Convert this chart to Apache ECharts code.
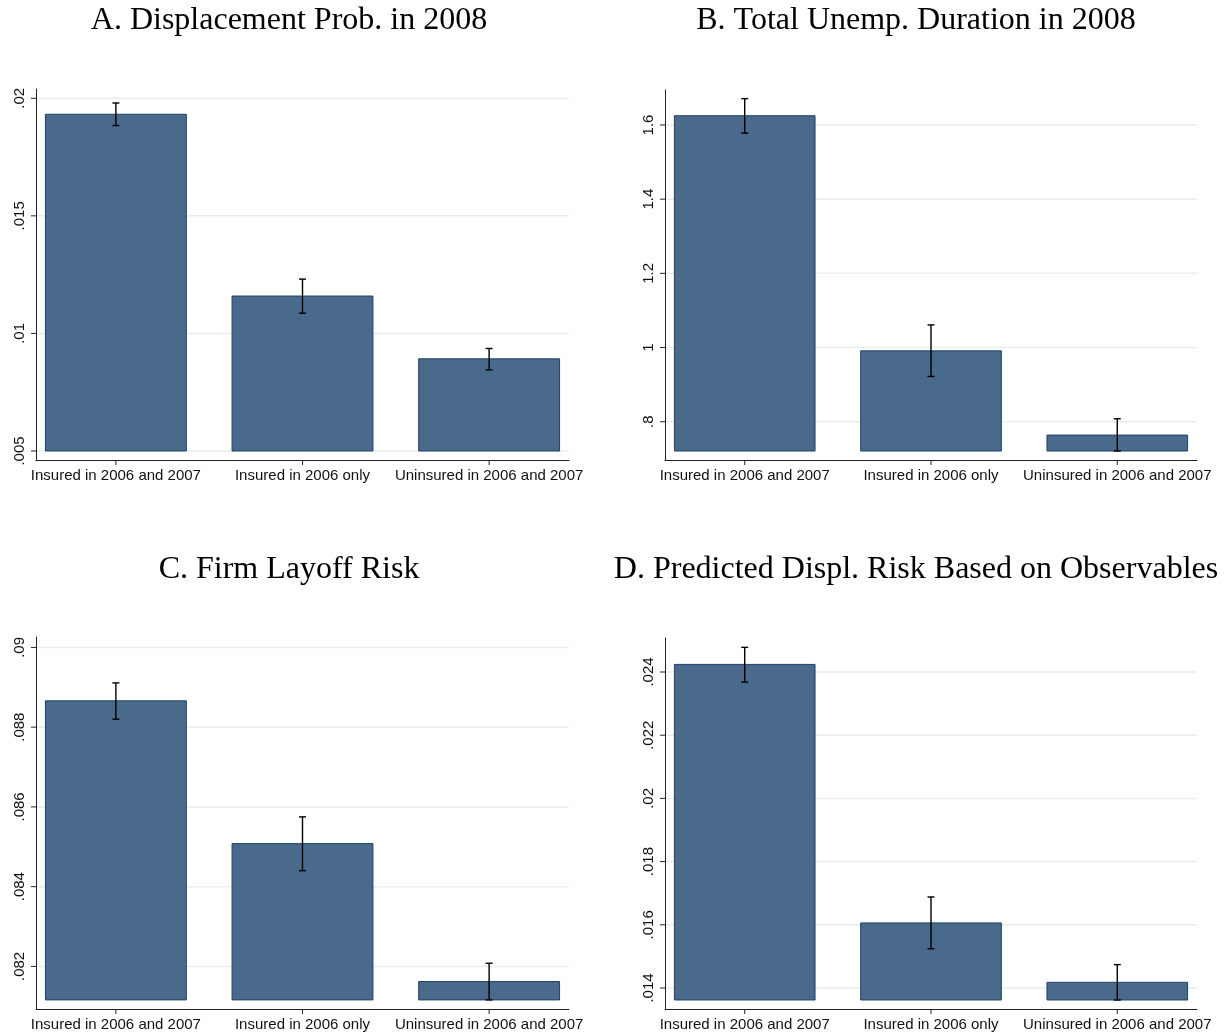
<!DOCTYPE html>
<html>
<head>
<meta charset="utf-8">
<script src="https://cdn.jsdelivr.net/npm/echarts@6/dist/echarts.min.js"></script>
<style>
html,body{margin:0;padding:0;background:#fff;}
#chart{width:1226px;height:1035px;}
</style>
</head>
<body>
<div id="chart"></div>
<script>
// ---- data ----
const categories = ['Insured in 2006 and 2007', 'Insured in 2006 only', 'Uninsured in 2006 and 2007'];
const panelTitles = ['A. Displacement Prob. in 2008', 'B. Total Unemp. Duration in 2008',
                     'C. Firm Layoff Risk', 'D. Predicted Displ. Risk Based on Observables'];

const meanA = [0.01932, 0.01159, 0.00892];
const ciLowA = [0.01884, 0.01086, 0.00845];
const ciHighA = [0.01980, 0.01231, 0.00936];
const baseA = 0.005;
const ticksA = [0.005, 0.01, 0.015, 0.02];

const meanB = [1.625, 0.991, 0.764];
const ciLowB = [1.578, 0.922, 0.721];
const ciHighB = [1.671, 1.061, 0.808];
const baseB = 0.721;
const ticksB = [0.8, 1, 1.2, 1.4, 1.6];

const meanC = [0.08866, 0.08508, 0.08162];
const ciLowC = [0.08820, 0.08440, 0.08116];
const ciHighC = [0.08911, 0.08575, 0.08208];
const baseC = 0.08116;
const ticksC = [0.082, 0.084, 0.086, 0.088, 0.09];

const meanD = [0.02424, 0.01606, 0.01418];
const ciLowD = [0.02368, 0.01524, 0.01362];
const ciHighD = [0.02478, 0.01688, 0.01474];
const baseD = 0.01362;
const ticksD = [0.014, 0.016, 0.018, 0.02, 0.022, 0.024];

// axis extents (axis lines extend slightly past the data in the original)
const yMinA = 0.004617, yMaxA = 0.020395;
const yMinB = 0.6968, yMaxB = 1.6943;
const yMinC = 0.080932, yMaxC = 0.090261;
const yMinD = 0.013335, yMaxD = 0.025076;
const xMin = -0.428, xMax = 2.428;

// ---- build ----
const panels = [
  {mean: meanA, lo: ciLowA, hi: ciHighA, base: baseA, ticks: ticksA, min: yMinA, max: yMaxA,
   grid: {left: 36, right: 1226 - 569, top: 89, bottom: 1035 - 460}, title: {x: 284, y: 0}},
  {mean: meanB, lo: ciLowB, hi: ciHighB, base: baseB, ticks: ticksB, min: yMinB, max: yMaxB,
   grid: {left: 665, right: 1226 - 1197, top: 90, bottom: 1035 - 460}, title: {x: 911, y: 0}},
  {mean: meanC, lo: ciLowC, hi: ciHighC, base: baseC, ticks: ticksC, min: yMinC, max: yMaxC,
   grid: {left: 36, right: 1226 - 569, top: 637, bottom: 1035 - 1009}, title: {x: 284, y: 549}},
  {mean: meanD, lo: ciLowD, hi: ciHighD, base: baseD, ticks: ticksD, min: yMinD, max: yMaxD,
   grid: {left: 665, right: 1226 - 1197, top: 638, bottom: 1035 - 1009}, title: {x: 911, y: 549}}
];

const fmtTick = v => String(v).replace(/^0\./, '.');
const BAR_HALF = 0.3775;
const CAP = 3.5;
const TICK = 5;
const axisColor = '#222';
const labelFont = {fontFamily: 'Liberation Sans', fontSize: 15, color: '#111'};

const option = {
  backgroundColor: '#fff',
  animation: false,
  title: panels.map((p, i) => ({
    text: panelTitles[i], left: p.title.x, top: p.title.y, textAlign: 'center',
    textStyle: {fontFamily: 'Liberation Serif', fontSize: 32, fontWeight: 'normal', color: '#000'}
  })),
  grid: panels.map(p => p.grid),
  xAxis: panels.map((p, i) => ({
    type: 'value', gridIndex: i, min: xMin, max: xMax,
    axisLine: {show: true, onZero: false, lineStyle: {color: axisColor, width: 1}},
    axisTick: {show: false},
    axisLabel: Object.assign({customValues: [0, 1, 2], margin: 8,
      formatter: v => categories[Math.round(v)]}, labelFont),
    splitLine: {show: false}
  })),
  yAxis: panels.map((p, i) => ({
    type: 'value', gridIndex: i, min: p.min, max: p.max,
    axisLine: {show: true, onZero: false, lineStyle: {color: axisColor, width: 1}},
    axisTick: {show: false},
    axisLabel: Object.assign({customValues: p.ticks, rotate: 90, margin: 9,
      formatter: fmtTick}, labelFont),
    splitLine: {show: false}
  })),
  series: []
};

panels.forEach((p, i) => {
  // gridlines + y ticks
  option.series.push({
    type: 'custom', xAxisIndex: i, yAxisIndex: i, z: 1, silent: true, clip: false,
    encode: {x: 0, y: 1},
    data: p.ticks.map(v => [xMin, v]),
    renderItem: (params, api) => {
      const v = api.value(1);
      const a = api.coord([xMin, v]);
      const b = api.coord([xMax, v]);
      return {type: 'group', children: [
        {type: 'line', shape: {x1: a[0] + 1, y1: a[1], x2: b[0], y2: b[1]},
         style: {stroke: '#e6eef0', lineWidth: 1.5}},
        {type: 'line', shape: {x1: a[0] - TICK, y1: a[1], x2: a[0], y2: a[1]},
         style: {stroke: axisColor, lineWidth: 1}}
      ]};
    }
  });
  // x ticks
  option.series.push({
    type: 'custom', xAxisIndex: i, yAxisIndex: i, z: 1, silent: true, clip: false,
    encode: {x: 0, y: 1},
    data: categories.map((c, k) => [k, p.min]),
    renderItem: (params, api) => {
      const a = api.coord([api.value(0), p.min]);
      return {type: 'line', shape: {x1: a[0], y1: a[1], x2: a[0], y2: a[1] + TICK},
              style: {stroke: axisColor, lineWidth: 1}};
    }
  });
  // bars
  option.series.push({
    type: 'custom', xAxisIndex: i, yAxisIndex: i, z: 3,
    encode: {x: 0, y: 1},
    data: p.mean.map((m, k) => [k, m, p.base]),
    renderItem: (params, api) => {
      const x = api.value(0), y = api.value(1), b = api.value(2);
      const p1 = api.coord([x - BAR_HALF, y]);
      const p2 = api.coord([x + BAR_HALF, b]);
      return {type: 'rect',
        shape: {x: p1[0], y: p1[1], width: p2[0] - p1[0], height: p2[1] - p1[1]},
        style: {fill: '#4a6a8b', stroke: '#1e4266', lineWidth: 1}};
    }
  });
  // error bars
  option.series.push({
    type: 'custom', xAxisIndex: i, yAxisIndex: i, z: 4,
    encode: {x: 0, y: [1, 2]},
    data: p.mean.map((m, k) => [k, p.lo[k], p.hi[k]]),
    renderItem: (params, api) => {
      const x = api.value(0);
      const lo = api.coord([x, api.value(1)]);
      const hi = api.coord([x, api.value(2)]);
      const st = {stroke: '#000', lineWidth: 1.4};
      return {type: 'group', children: [
        {type: 'line', shape: {x1: lo[0], y1: lo[1], x2: hi[0], y2: hi[1]}, style: st},
        {type: 'line', shape: {x1: lo[0] - CAP, y1: lo[1], x2: lo[0] + CAP, y2: lo[1]}, style: st},
        {type: 'line', shape: {x1: hi[0] - CAP, y1: hi[1], x2: hi[0] + CAP, y2: hi[1]}, style: st}
      ]};
    }
  });
});

const chart = echarts.init(document.getElementById('chart'), null, {renderer: 'canvas'});
chart.setOption(option);
</script>
</body>
</html>
